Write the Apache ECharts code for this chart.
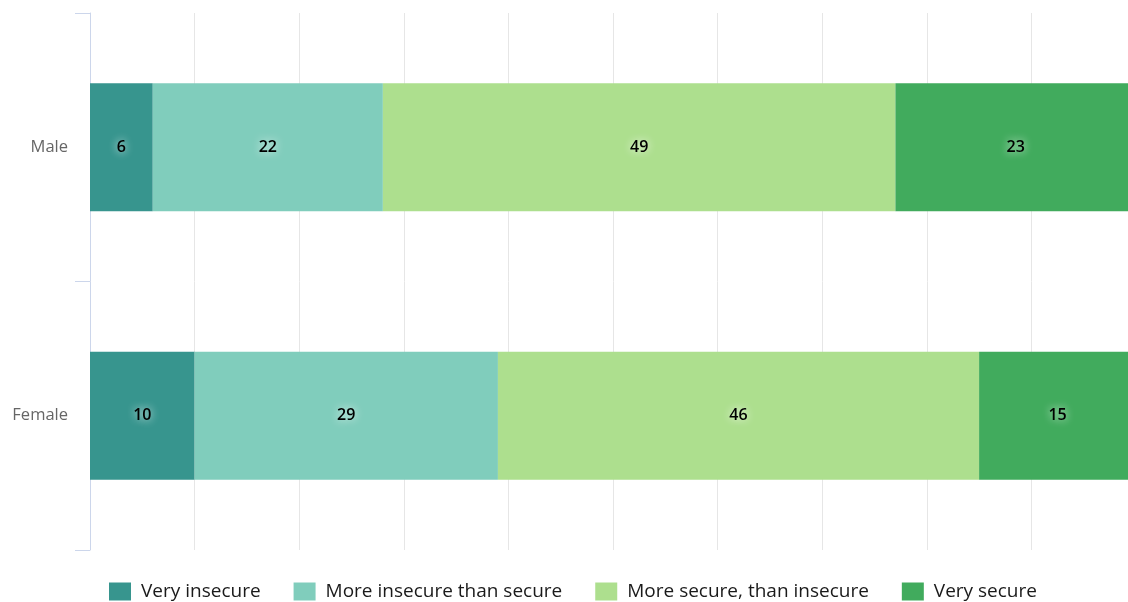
<!DOCTYPE html>
<html>
<head>
<meta charset="utf-8">
<script src="https://cdn.jsdelivr.net/npm/echarts@6/dist/echarts.min.js"></script>
<style>
  html, body { margin: 0; padding: 0; background: #fff; overflow: hidden; }
  /* the canvas is a little wider than the window, so the plot runs past the right edge */
  #chart { width: 1136px; height: 602px; }
</style>
</head>
<body>
<div id="chart"></div>
<script>
// Sense of security by gender (percent of respondents)
const categories = ['Male', 'Female'];
const seriesNames = ['Very insecure', 'More insecure than secure', 'More secure, than insecure', 'Very secure'];
const veryInsecure = [6, 10];
const moreInsecure = [22, 29];
const moreSecure = [49, 46];
const verySecure = [23, 15];
const colors = ['#37958e', '#80cdbc', '#addf8e', '#41ab5d'];

const values = [veryInsecure, moreInsecure, moreSecure, verySecure];

const chart = echarts.init(document.getElementById('chart'));

const series = seriesNames.map((name, i) => ({
  name: name,
  type: 'bar',
  stack: 'total',
  barWidth: 128,
  data: values[i],
  itemStyle: { color: colors[i] },
  label: {
    show: true,
    position: 'inside',
    color: '#000',
    fontFamily: 'Open Sans, sans-serif',
    fontSize: 16,
    fontWeight: 600,
    textShadowColor: 'rgba(255,255,255,0.95)',
    textShadowBlur: 8
  },
  emphasis: { disabled: true }
}));

chart.setOption({
  animation: false,
  color: colors,
  grid: { left: 90, right: 0, top: 13, bottom: 52, containLabel: false },
  xAxis: {
    type: 'value',
    min: 0,
    max: 100,
    interval: 10,
    axisLine: { show: false },
    axisTick: { show: false },
    axisLabel: { show: false },
    splitLine: { show: true, lineStyle: { color: '#e6e6e6', width: 1 } }
  },
  yAxis: {
    type: 'category',
    data: categories,
    inverse: true,
    axisLine: { show: true, lineStyle: { color: '#ccd6eb', width: 1 } },
    axisTick: { show: true, length: 15, lineStyle: { color: '#ccd6eb' } },
    axisLabel: {
      color: '#666',
      fontFamily: 'Open Sans, sans-serif',
      fontSize: 16.5,
      margin: 22
    },
    splitLine: { show: false }
  },
  legend: {
    top: 577,
    left: 104,
    itemWidth: 22,
    itemHeight: 18,
    itemGap: 33,
    icon: 'rect',
    textStyle: {
      color: '#1a1a1a',
      fontFamily: 'Open Sans, sans-serif',
      fontSize: 19,
      fontWeight: 500,
      padding: [0, 0, 0, 5]
    },
    data: seriesNames
  },
  series: series
});
</script>
</body>
</html>
